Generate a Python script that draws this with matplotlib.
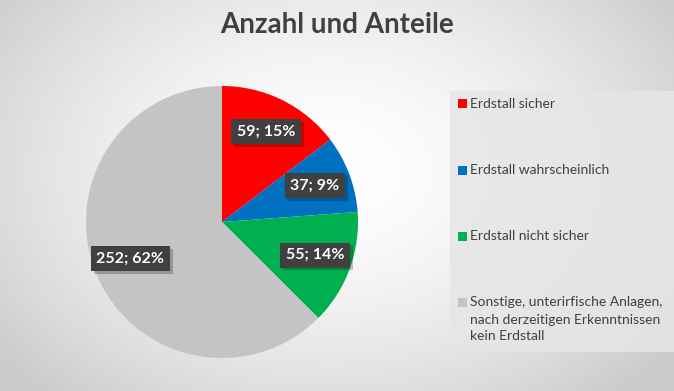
import matplotlib.pyplot as plt
import matplotlib.patches as mpatches
import matplotlib.patheffects as pe
import numpy as np

# Data
categories = ['Erdstall sicher', 'Erdstall wahrscheinlich', 'Erdstall nicht sicher',
              'Sonstige, unterirfische Anlagen,\nnach derzeitigen Erkenntnissen\nkein Erdstall']
counts = [59, 37, 55, 252]
shares = [15, 9, 14, 62]  # percent as shown on the chart
colors = ['#FF0000', '#0070C0', '#00B050', '#C4C4C4']

plt.rcParams['font.family'] = ['Lato', 'DejaVu Sans']

W, H = 674, 391
fig = plt.figure(figsize=(W / 100, H / 100), dpi=100)

# Radial gradient background
bg = fig.add_axes([0, 0, 1, 1], zorder=0)
yy, xx = np.mgrid[0:H, 0:W]
d = np.sqrt(((xx - 330) / 420.0) ** 2 + ((yy - 170) / 300.0) ** 2)
d = np.clip(d, 0, 1) ** 1.6
shade = 1.0 - 0.2 * d
bg.imshow(np.dstack([shade] * 3), extent=[0, W, H, 0], aspect='auto')
bg.set_xlim(0, W)
bg.set_ylim(H, 0)
bg.axis('off')

# Legend box
bg.add_patch(mpatches.Rectangle((450, 91), 230, 261, facecolor='#E6E6E6',
                                edgecolor='none', alpha=0.85, zorder=2))
legend_y = [103, 170, 236, 302]
for lab, col, y in zip(categories, colors, legend_y):
    bg.add_patch(mpatches.Rectangle((458, y - 4.5), 9, 9, facecolor=col,
                                    edgecolor='none', zorder=3))
    bg.text(470, y - 5.5, lab, ha='left', va='top', fontsize=10,
            color='#404040', linespacing=1.5, zorder=3)

# Pie
cx, cy, r = 222, 222, 136
ax = fig.add_axes([(cx - r) / W, (H - cy - r) / H, 2 * r / W, 2 * r / H], zorder=1)
wedges, _ = ax.pie(counts, colors=colors, startangle=90, counterclock=False,
                   radius=1.0, wedgeprops=dict(linewidth=0))
ax.set_xlim(-1, 1)
ax.set_ylim(-1, 1)
ax.set_aspect('equal')
ax.axis('off')

for w, c, s in zip(wedges, counts, shares):
    ang = np.deg2rad((w.theta1 + w.theta2) / 2)
    rr = 0.73
    x, y = rr * np.cos(ang), rr * np.sin(ang)
    t = ax.text(x, y + 0.01, f'{c}; {s}%', ha='center', va='center',
                fontsize=11.5, fontweight='bold', color='white',
                bbox=dict(boxstyle='square,pad=0.35', facecolor='#404040',
                          edgecolor='none'))
    t.get_bbox_patch().set_path_effects(
        [pe.SimplePatchShadow(offset=(2, -2), alpha=0.25), pe.Normal()])

# Title
fig.text(0.5, 1 - 25 / H, 'Anzahl und Anteile', ha='center', va='center',
         fontsize=20, fontweight='bold', color='#404040')

fig.savefig('out.png', dpi=100)
